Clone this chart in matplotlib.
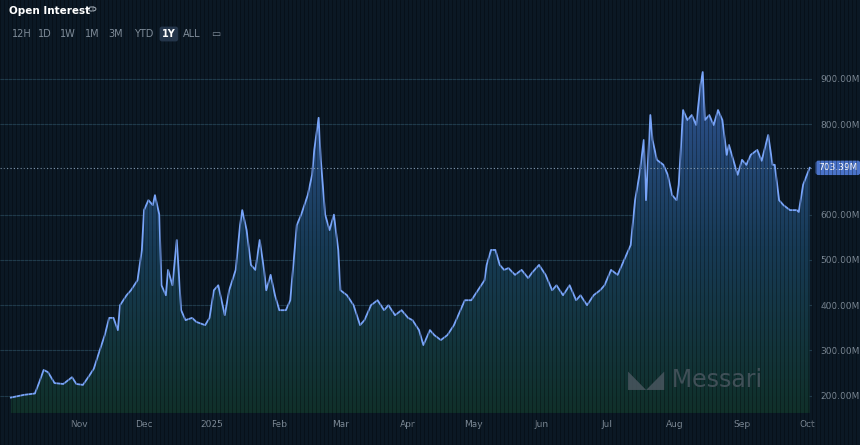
import numpy as np
import pandas as pd
import matplotlib.pyplot as plt
from matplotlib.patches import Polygon, Circle
from matplotlib.colors import LinearSegmentedColormap
import matplotlib.dates as mdates

# days since 2024-10-01, open interest in millions
days = [0, 6, 11, 13, 15, 17, 20, 24, 28, 30, 33, 36, 38, 40, 43, 45, 47, 49, 50, 53,
        55, 58, 60, 61, 63, 65, 66, 68, 69, 71, 72, 74, 76, 78, 80, 83, 85, 89, 91, 93,
        95, 98, 100, 103, 105, 106, 108, 110, 112, 114, 116, 117, 119, 121, 123, 126, 128, 131, 133, 136,
        138, 139, 141, 142, 144, 146, 148, 150, 151, 154, 157, 160, 162, 165, 168, 171, 173, 176, 179, 182,
        184, 187, 189, 192, 194, 197, 200, 203, 206, 208, 211, 214, 217, 218, 220, 222, 224, 226, 228, 231,
        234, 237, 239, 242, 245, 248, 250, 253, 256, 259, 261, 264, 267, 270, 272, 275, 278, 280, 283, 284,
        286, 288, 290, 291, 293, 294, 296, 299, 301, 303, 305, 306, 308, 310, 312, 314, 316, 317, 318, 320,
        322, 324, 326, 328, 329, 331, 333, 335, 337, 339, 342, 344, 347, 349, 350, 352, 354, 357, 360, 361,
        363, 366]
oi = [196, 202, 205, 230, 257, 252, 228, 226, 241, 226, 224, 245, 260, 290, 334, 372, 372, 345, 400, 422,
      433, 455, 522, 610, 632, 621, 643, 600, 444, 422, 478, 444, 544, 389, 367, 372, 363, 356, 372, 433,
      444, 378, 433, 478, 577, 610, 566, 489, 478, 544, 478, 433, 467, 422, 389, 389, 411, 577, 600, 643,
      688, 743, 814, 721, 600, 566, 600, 522, 433, 422, 400, 356, 367, 400, 411, 389, 400, 378, 389, 372,
      367, 345, 312, 345, 334, 323, 334, 356, 389, 411, 411, 433, 455, 489, 522, 522, 489, 478, 482, 467,
      478, 460, 473, 489, 467, 433, 444, 422, 444, 411, 422, 400, 422, 433, 444, 478, 467, 489, 522, 533,
      632, 688, 765, 632, 820, 765, 721, 710, 688, 643, 632, 666, 831, 809, 820, 798, 887, 915, 809, 820,
      798, 831, 809, 732, 754, 721, 688, 721, 710, 732, 743, 719, 776, 710, 710, 632, 621, 610, 610, 606,
      666, 703.39]
month_ticks = ['2024-11-01', '2024-12-01', '2025-01-01', '2025-02-01', '2025-03-01', '2025-04-01',
               '2025-05-01', '2025-06-01', '2025-07-01', '2025-08-01', '2025-09-01', '2025-10-01']
month_labels = ['Nov', 'Dec', '2025', 'Feb', 'Mar', 'Apr', 'May', 'Jun', 'Jul', 'Aug', 'Sep', 'Oct']
y_ticks = [200, 300, 400, 500, 600, 800, 900]
buttons = ['12H', '1D', '1W', '1M', '3M', 'YTD', '1Y', 'ALL']

bg = '#0b1824'
dates = pd.Timestamp('2024-10-01') + pd.to_timedelta(days, unit='D')
x = mdates.date2num(dates)
y = np.array(oi)

fig = plt.figure(figsize=(8.6, 4.45), dpi=100, facecolor=bg)
ax = fig.add_axes([0.0, 0.072, 0.944, 0.816], facecolor=bg)
x0 = x[0] - 5
ax.set_xlim(x0, x[-1] + 1)
ax.set_ylim(162, 964)

# gradient fill under line
grad = np.linspace(0, 1, 256).reshape(-1, 1)
cmap = LinearSegmentedColormap.from_list('g', ['#10302a', '#173a55', '#2e5290'])
im = ax.imshow(grad, extent=[x0, x[-1], 162, 900], origin='lower', aspect='auto',
               cmap=cmap, zorder=1)
poly = Polygon(np.column_stack([np.r_[x[0], x, x[-1]], np.r_[162, y, 162]]),
               closed=True, transform=ax.transData, facecolor='none', edgecolor='none')
ax.add_patch(poly)
im.set_clip_path(poly)
ax.plot(x, y, color='#78a4f8', lw=1.3, zorder=3)

for v in y_ticks:
    ax.axhline(v, color='#1f3a4a', lw=0.8, zorder=0.5)
ax.axhline(y[-1], color='#8aa0b8', lw=0.8, ls=(0, (1, 2)), zorder=2)

ax.set_yticks(y_ticks)
ax.set_yticklabels([f'{v}.00M' for v in y_ticks])
ax.yaxis.tick_right()
ax.tick_params(axis='y', length=0, pad=6, labelsize=6.5, labelcolor='#7f8c99')
ax.set_xticks(mdates.date2num(pd.to_datetime(month_ticks)))
ax.set_xticklabels(month_labels)
ax.tick_params(axis='x', length=0, pad=5, labelsize=6.5, labelcolor='#7f8c99')
for s in ax.spines.values():
    s.set_visible(False)

ax.text(1.008, y[-1], f'{y[-1]:.2f}M', transform=ax.get_yaxis_transform(), va='center',
        ha='left', fontsize=6.5, color='white',
        bbox=dict(boxstyle='round,pad=0.3', fc='#4a73c9', ec='none'))

# vertical stripe texture
for px in range(0, 860, 4):
    fig.add_artist(plt.Line2D([px / 860, px / 860], [0, 1], color='#000000', lw=0.6, alpha=0.35))

fig.text(9 / 860, 1 - 11 / 445, 'Open Interest', color='white', fontsize=7.5, weight='bold', va='center')
# info icon
fig.add_artist(Circle((92 / 860, 1 - 9 / 445), 4 / 860, transform=fig.transFigure,
                      fill=False, ec='#9aa5b0', lw=0.8))
fig.text(92 / 860, 1 - 9 / 445, 'i', color='#9aa5b0', fontsize=5, va='center', ha='center')
bx = [12, 38, 60, 85, 108, 134, 162, 183]
for b, px in zip(buttons, bx):
    if b == '1Y':
        fig.text(px / 860, 1 - 34 / 445, b, color='white', fontsize=7, va='center', weight='bold',
                 bbox=dict(boxstyle='round,pad=0.25', fc='#24354a', ec='none'))
    else:
        fig.text(px / 860, 1 - 34 / 445, b, color='#7f8c99', fontsize=7, va='center')
fig.text(211 / 860, 1 - 34 / 445, '▭', color='#7f8c99', fontsize=7, va='center')
fig.text(628 / 860, 1 - 379 / 445, '◣◢ Messari', color='#4d5862', fontsize=17, va='center', alpha=0.8)

fig.savefig('out.png', dpi=100, facecolor=bg)
